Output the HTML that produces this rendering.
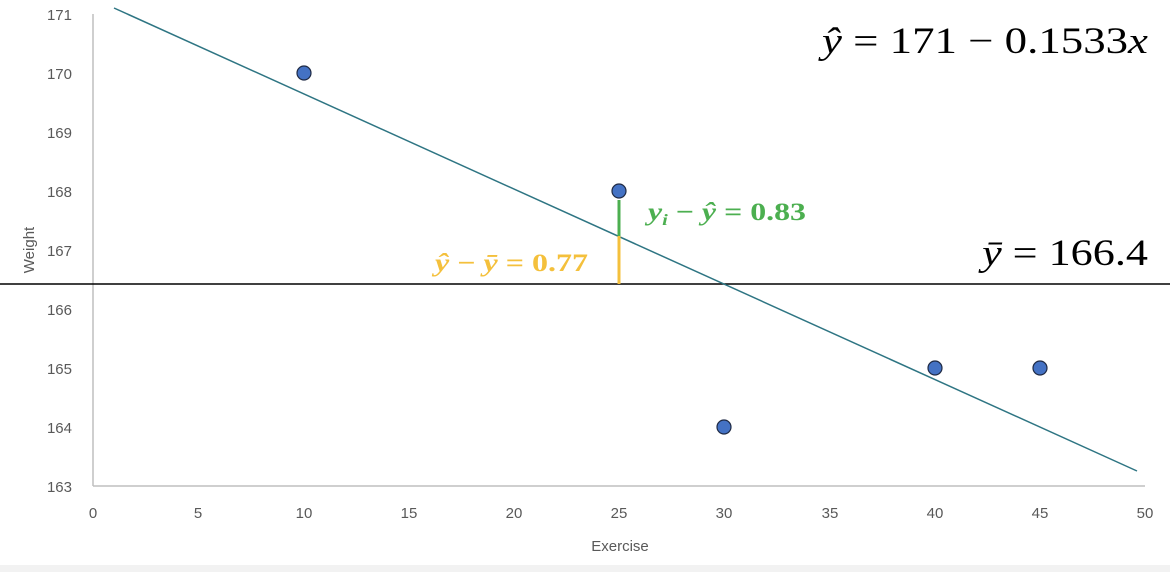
<!DOCTYPE html>
<html><head><style>body{margin:0;background:#fff}</style></head><body>
<svg width="1170" height="572" viewBox="0 0 1170 572" xmlns="http://www.w3.org/2000/svg" font-family="Liberation Sans, sans-serif">
<rect width="1170" height="572" fill="#fff"/>
<rect y="565" width="1170" height="7" fill="#f2f2f2"/>
<line x1="93" y1="14" x2="93" y2="486" stroke="#bfbfbf" stroke-width="1.5"/>
<line x1="93" y1="486" x2="1145" y2="486" stroke="#bfbfbf" stroke-width="1.5"/>
<g fill="#595959" font-size="15" text-anchor="end">
<text x="72" y="20">171</text><text x="72" y="79">170</text><text x="72" y="138">169</text><text x="72" y="197">168</text><text x="72" y="256">167</text><text x="72" y="315">166</text><text x="72" y="374">165</text><text x="72" y="433">164</text><text x="72" y="492">163</text>
</g>
<g fill="#595959" font-size="15" text-anchor="middle">
<text x="93" y="518">0</text><text x="198" y="518">5</text><text x="304" y="518">10</text><text x="409" y="518">15</text><text x="514" y="518">20</text><text x="619" y="518">25</text><text x="724" y="518">30</text><text x="830" y="518">35</text><text x="935" y="518">40</text><text x="1040" y="518">45</text><text x="1145" y="518">50</text>
<text x="620" y="551">Exercise</text>
<text transform="translate(34,250) rotate(-90)">Weight</text>
</g>
<line x1="0" y1="284" x2="1170" y2="284" stroke="#000" stroke-width="1.5"/>
<line x1="114" y1="8" x2="1137" y2="471" stroke="#2e7583" stroke-width="1.5"/>
<line x1="619" y1="200" x2="619" y2="236" stroke="#4caf50" stroke-width="3"/>
<line x1="619" y1="236" x2="619" y2="284" stroke="#f4c03c" stroke-width="3"/>
<g fill="#4472c4" stroke="#1f2a44" stroke-width="1.2">
<circle cx="304" cy="73" r="7"/><circle cx="619" cy="191" r="7"/><circle cx="724" cy="427" r="7"/><circle cx="935" cy="368" r="7"/><circle cx="1040" cy="368" r="7"/>
</g>
<g font-family="Liberation Serif, serif" font-size="37" fill="#000">
<text x="822" y="53" textLength="326" lengthAdjust="spacingAndGlyphs"><tspan font-style="italic">ŷ</tspan> = 171 − 0.1533<tspan font-style="italic">x</tspan></text>
<text x="982" y="265" textLength="166" lengthAdjust="spacingAndGlyphs"><tspan font-style="italic">ȳ</tspan> = 166.4</text>
</g>
<text x="648" y="220" textLength="158" lengthAdjust="spacingAndGlyphs" font-family="Liberation Serif, serif" font-size="25" font-weight="bold" fill="#4caf50"><tspan font-style="italic">y<tspan font-size="16" dy="5">i</tspan></tspan><tspan dy="-5"> − </tspan><tspan font-style="italic">ŷ</tspan> = 0.83</text>
<text x="435" y="271" textLength="153" lengthAdjust="spacingAndGlyphs" font-family="Liberation Serif, serif" font-size="25" font-weight="bold" fill="#f4c03c"><tspan font-style="italic">ŷ</tspan> − <tspan font-style="italic">ȳ</tspan> = 0.77</text>
</svg>
</body></html>
